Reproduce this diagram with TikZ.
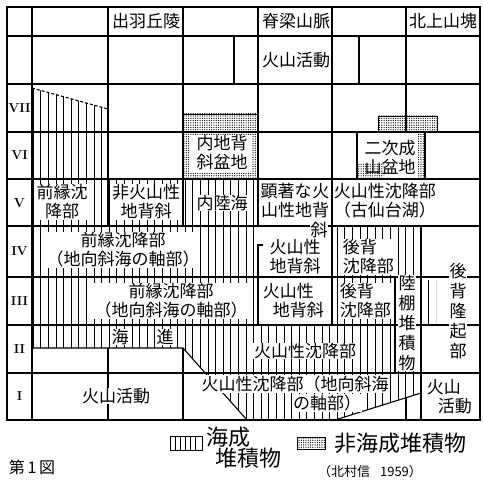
\documentclass[tikz,border=0pt]{standalone}
\usepackage{fontspec}
\newfontfamily\jp{Noto Sans CJK JP}
\usetikzlibrary{patterns}
\pgfdeclarepatternformonly{stippledots}{\pgfqpoint{-0.6pt}{-0.6pt}}{\pgfqpoint{0.6pt}{0.6pt}}{\pgfqpoint{2.3pt}{2.3pt}}{\pgfpathcircle{\pgfqpoint{0pt}{0pt}}{0.65pt}\pgfusepath{fill}}
\newcommand{\hatchfill}[1]{\begin{scope}\clip #1;\foreach \hx in {33.1,40.7,...,480}{\draw[hl] (\hx,0)--(\hx,484);}\end{scope}}
\begin{document}
\begin{tikzpicture}[x=1pt,y=-1pt,
  grid/.style={line width=1.1pt},
  hl/.style={line width=0.8pt},
  lbl/.style={font=\jp\fontsize{17}{19}\selectfont, inner sep=0.6pt, fill=white, align=center},
  lblL/.style={font=\jp\fontsize{17}{19}\selectfont, inner sep=0.6pt, fill=white, align=left, anchor=west},
  vlbl/.style={font=\jp\fontsize{17}{20}\selectfont, inner sep=0.6pt, fill=white, align=center},
  roman/.style={font=\bfseries\fontsize{13}{13}\selectfont, inner sep=0pt},
  leg/.style={font=\jp\fontsize{22}{24}\selectfont, inner sep=0pt},
  stip/.style={pattern=stippledots}]
\useasboundingbox (0,0) rectangle (482,484);
% marine hatching
\hatchfill{(32,88) -- (108,109) -- (108,179) -- (32,179) -- cycle}
\hatchfill{(32,179) rectangle (258,226)}
\hatchfill{(32,226) rectangle (258,325)}
\hatchfill{(332,226) rectangle (421,325)}
\hatchfill{(422,280) rectangle (436,325)}
\hatchfill{(32,325) -- (421,325) -- (421,373) -- (205,373) -- (183,348) -- (32,348) -- cycle}
\hatchfill{(205,373) -- (421,373) -- (421,393) -- (335,420) -- (247,420) -- cycle}
% non-marine stipple
\fill[stip] (183,114) rectangle (258,132);
\draw[hl] (183,114) rectangle (258,132);
\fill[stip] (378,116) rectangle (437,132);
\draw[hl] (378,116) rectangle (437,132);
\fill[stip] (183,132) rectangle (258,179);
\fill[white] (190,135) rectangle (252,172);
\fill[stip] (418,132) rectangle (425,179);
\fill[stip] (357,163) rectangle (384,179);
% grid
\draw[grid] (7,7) rectangle (480,420);
\draw[grid] (32,7) -- (32,420);
\foreach \ry in {36,84,132,179,226,277,325,373}{\draw[grid] (7,\ry) -- (480,\ry);}
\draw[grid] (108,7) -- (108,226) (108,348) -- (108,420);
\draw[grid] (183,7) -- (183,226) (183,348) -- (183,420);
\draw[grid] (258,7) -- (258,226) (263,245) -- (258,245) -- (258,325);
\draw[grid] (234,36) -- (234,84);
\draw[grid] (332,7) -- (332,325);
\draw[grid] (359,36) -- (359,84);
\draw[grid] (406,7) -- (406,132) (406,398) -- (406,420);
\draw[grid] (357,132) -- (357,179) (425,132) -- (425,179);
\draw[grid] (395,277) -- (395,373);
\draw[grid] (421,226) -- (421,420);
\draw[grid] (32,348) -- (183,348) -- (247,420);
\draw[grid] (335,420) -- (421,393);
\draw[grid, dashed, dash pattern=on 3pt off 2pt] (32,88) -- (108,109);
% stage labels
\node[roman] (s7) at (19.5,108) {VII};
\node[roman] (s6) at (19.5,155) {VI};
\node[roman] (s5) at (19.5,203) {V};
\node[roman] (s4) at (19.5,251) {IV};
\node[roman] (s3) at (19.5,301) {III};
\node[roman] (s2) at (19.5,349) {II};
\node[roman] (s1) at (19.5,396) {I};
% header
\node[lbl] (h1) at (146,21) {出羽丘陵};
\node[lbl] (h2) at (296,21) {脊梁山脈};
\node[lbl] (h3) at (443,21) {北上山塊};
\node[lbl] (v0) at (296,60) {火山活動};
% row VI
\node[lbl] (b1) at (222,153) {内地背\\斜盆地};
\node[lbl, fill=none] (b2) at (390,157) {二次成\\山盆地};
% row V
\node[lbl] (r5a) at (62,202) {前縁沈\\降部};
\node[lbl] (r5b) at (146,202) {非火山性\\地背斜};
\node[lbl] (r5c) at (222,203) {内陸海};
\node[lbl] (r5d) at (295,201) {顕著な\hspace{1pt}火\\山性地背};
\node[lbl] (r5e) at (319,230) {斜};
\node[lblL] (r5f) at (333,201) {火山性沈降部\\（古仙台湖）};
% row IV
\node[lbl] (r4a) at (123,250) {前縁沈降部\\（地向斜海の軸部）};
\node[lbl] (r4b) at (295,257) {火山性\\地背斜};
\node[lblL] (r4c) at (342,257) {後背\\沈降部};
% row III
\node[lbl] (r3a) at (171,301) {前縁沈降部\\（地向斜海の軸部）};
\node[lblL] (r3b) at (262,301) {火山性\\\hspace*{10pt}地背斜};
\node[lblL] (r3c) at (339,301) {後背\\沈降部};
% vertical texts
\node[vlbl] (sh) at (407,323) {陸\\棚\\堆\\積\\物};
\node[vlbl] (up) at (458,311) {後\\背\\隆\\起\\部};
% row II
\node[lbl] (t1) at (120,337) {海};
\node[lbl] (t2) at (165,337) {進};
\node[lbl] (r2a) at (305,351) {火山性沈降部};
% row I
\node[lbl] (r1a) at (116,396) {火山活動};
\node[lbl] (r1b) at (295,384) {火山性沈降部（地向斜海};
\node[lbl] (r1c) at (327,403) {の軸部）};
\node[lblL] (r1d) at (426,397) {火山\\\hspace*{11pt}活動};
% legend
\draw[hl, line width=1pt] (170,436) rectangle (202,450);
\foreach \lx in {175,180,...,198}{\draw[hl] (\lx,436) -- (\lx,450);}
\node[leg] (lg1) at (228,437) {海成};
\node[leg] (lg2) at (248,458) {堆積物};
\fill[stip] (297,437) rectangle (325,449);
\draw[hl] (297,437) rectangle (325,449);
\node[leg] (lg3) at (400,443) {非海成堆積物};
\node[font=\jp\fontsize{13}{13}\selectfont, inner sep=0pt] (src) at (370,472) {（北村信\hspace{10pt}1959）};
\node[font=\jp\fontsize{16}{16}\selectfont, inner sep=0pt] (fig) at (32,467) {第\,1\,図};
\end{tikzpicture}
\end{document}
